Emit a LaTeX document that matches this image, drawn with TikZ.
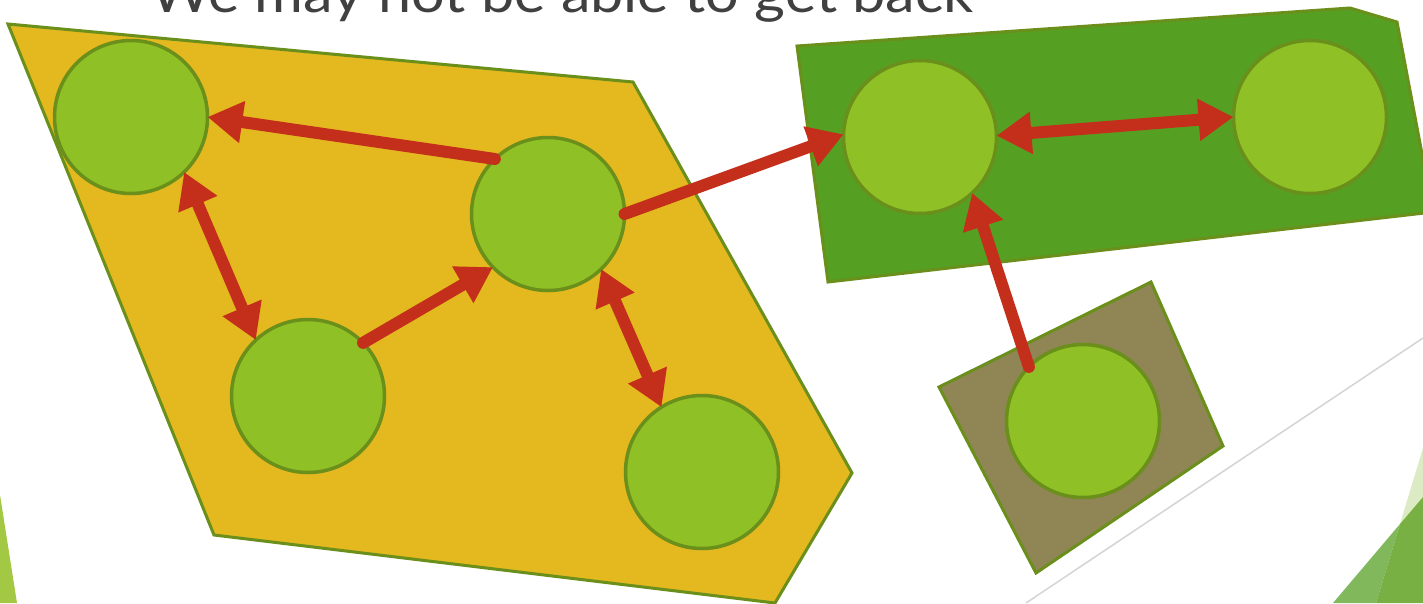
\documentclass[tikz,border=0pt]{standalone}
\usepackage{fontspec}
\setmainfont{Lato}
\usetikzlibrary{arrows.meta}
\definecolor{edgeolive}{HTML}{6A8F1A}
\definecolor{mustard}{HTML}{E4B81F}
\definecolor{leafgreen}{HTML}{55A022}
\definecolor{limefill}{HTML}{8FC126}
\definecolor{mudbrown}{HTML}{908555}
\definecolor{arrowred}{HTML}{C42F1B}
\definecolor{titlegray}{HTML}{404040}
\definecolor{sliverlime}{HTML}{A2C844}
\definecolor{rulegray}{HTML}{D4D4D4}
\definecolor{palegreen}{HTML}{DDEBC4}
\definecolor{midgreen}{HTML}{82B85C}
\definecolor{deepgreen}{HTML}{78B043}
\tikzset{
  region/.style={draw=edgeolive, line width=3pt, line join=miter},
  vertex/.style={circle, draw=edgeolive, fill=limefill, line width=3.5pt,
                 minimum size=153pt, inner sep=0pt, outer sep=0pt},
  link/.style={draw=arrowred, line width=12pt, line cap=round,
               -{Triangle[length=35pt,width=40pt]}},
  twoway/.style={draw=arrowred, line width=12pt,
               {Triangle[length=35pt,width=40pt]}-{Triangle[length=35pt,width=40pt]}}
}
\begin{document}
\begin{tikzpicture}[x=1pt,y=-1pt]
\useasboundingbox (0,0) rectangle (1423,603);
\clip (0,0) rectangle (1423,603);
\fill[white] (0,0) rectangle (1423,603);

% corner decorations
\fill[sliverlime] (0,495) -- (17,603) -- (0,603) -- cycle;
\draw[line width=1.5pt, rulegray] (1026,603) -- (1423,338);
\fill[palegreen] (1423,448) -- (1400,524) -- (1423,497) -- cycle;
\fill[midgreen] (1333,603) -- (1400,524) -- (1376,603) -- cycle;
\fill[deepgreen] (1400,524) -- (1423,497) -- (1423,603) -- (1376,603) -- cycle;

% title, running off the top edge
\node[anchor=base west, inner sep=0pt, text=titlegray, xscale=1.1, transform shape,
      font=\fontsize{54}{60}\selectfont] (title) at (150,12) {We may not be able to get back};

% regions
\path[region, fill=mustard] (8,24) -- (633,82) -- (852,473) -- (775,603) -- (214,535) -- cycle;
\path[region, fill=leafgreen] (797,46) -- (1350,8) -- (1397,22) -- (1433,212) -- (828,282) -- cycle;
\path[region, fill=mudbrown] (939,387) -- (1151,282) -- (1223,446) -- (1036,573) -- cycle;

% vertices
\node[vertex] (c1) at (131,117) {};
\node[vertex] (c2) at (548,214) {};
\node[vertex] (c3) at (308,396) {};
\node[vertex] (c4) at (702,472) {};
\node[vertex] (c5) at (920,137) {};
\node[vertex] (c6) at (1310,117) {};
\node[vertex] (c7) at (1083,421) {};

% connections
\draw[link] (c2.134) -- (c1.0);
\draw[link] (c3.44) -- (c2.224);
\draw[twoway] (c1.314) -- (c3.133);
\draw[twoway] (c2.314) -- (c4.122);
\draw[link] (c2.0) -- (c5.178);
\draw[twoway] (c5.1.5) -- (c6.180);
\draw[link] (c7.135) -- (c5.313);
\end{tikzpicture}
\end{document}
